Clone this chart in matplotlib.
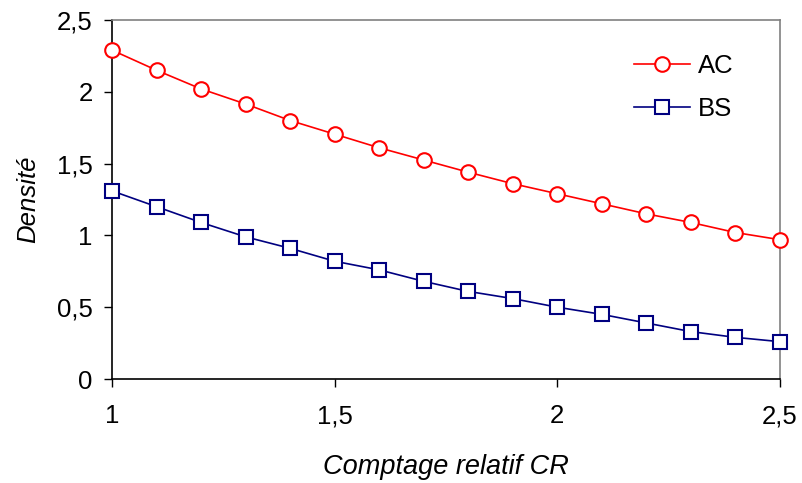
import matplotlib
matplotlib.use("Agg")
import matplotlib.pyplot as plt

# données
cr = [1.0, 1.1, 1.2, 1.3, 1.4, 1.5, 1.6, 1.7, 1.8, 1.9, 2.0, 2.1, 2.2, 2.3, 2.4, 2.5]
ac = [2.29, 2.15, 2.02, 1.915, 1.80, 1.705, 1.61, 1.525, 1.44, 1.36, 1.29, 1.22, 1.15, 1.09, 1.02, 0.97]
bs = [1.31, 1.20, 1.09, 0.99, 0.91, 0.82, 0.76, 0.68, 0.61, 0.56, 0.50, 0.45, 0.39, 0.33, 0.29, 0.26]

x_ticks = [1, 1.5, 2, 2.5]
x_labels = ["1", "1,5", "2", "2,5"]
y_ticks = [0, 0.5, 1, 1.5, 2, 2.5]
y_labels = ["0", "0,5", "1", "1,5", "2", "2,5"]

plt.rcParams["font.family"] = ["Liberation Sans", "DejaVu Sans"]
fs = 18.5

fig = plt.figure(figsize=(8.03, 4.83), dpi=100)
ax = fig.add_axes([0.1395, 0.2153, 0.8319, 0.7433])

ax.plot(cr, ac, color="#FF0000", lw=1.2, marker="o", ms=10.5, mfc="white",
        mec="#FF0000", mew=1.5, label="AC", clip_on=False, zorder=3)
ax.plot(cr, bs, color="#000080", lw=1.2, marker="s", ms=10, mfc="white",
        mec="#000080", mew=1.5, label="BS", clip_on=False, zorder=3)

ax.set_xlim(1, 2.5)
ax.set_ylim(0, 2.5)
ax.set_xticks(x_ticks)
ax.set_xticklabels(x_labels)
ax.set_yticks(y_ticks)
ax.set_yticklabels(y_labels)
ax.tick_params(axis="both", direction="out", length=6, width=1, labelsize=fs, colors="black")
ax.tick_params(axis="x", pad=12)
ax.tick_params(axis="y", pad=8)

ax.spines["left"].set_color("black")
ax.spines["bottom"].set_color("black")
ax.spines["top"].set_color("#808080")
ax.spines["right"].set_color("#808080")
for s in ax.spines.values():
    s.set_linewidth(1.2)

ax.set_xlabel("Comptage relatif CR", fontsize=19.5, style="italic", labelpad=19)
ax.set_ylabel("Densité", fontsize=fs, style="italic", labelpad=12)

ax.legend(loc="upper left", frameon=False, fontsize=fs, handlelength=2.2,
          bbox_to_anchor=(0.781, 0.905), borderaxespad=0, borderpad=0,
          labelspacing=0.72, handletextpad=0.3)

plt.savefig("out.png", dpi=100)
